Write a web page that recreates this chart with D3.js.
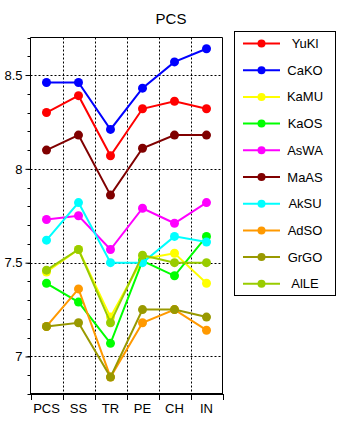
<!DOCTYPE html>
<html>
<head>
<meta charset="utf-8">
<script src="https://cdn.jsdelivr.net/npm/d3@7"></script>
<style>
  html, body { margin: 0; padding: 0; background: #fff; }
  svg { display: block; font-family: "Liberation Sans", Arial, sans-serif; }
</style>
</head>
<body>
<svg id="chart" width="342" height="423"></svg>
<script>
// Categories along the x axis
const categories = ["PCS", "SS", "TR", "PE", "CH", "IN"];

// Series names and colours (legend order = drawing order)
const seriesNames  = ["YuKl", "CaKO", "KaMU", "KaOS", "AsWA", "MaAS", "AkSU", "AdSO", "GrGO", "AlLE"];
const seriesColors = ["#ff0000", "#0000ff", "#ffff00", "#00ff00", "#ff00ff", "#800000", "#00ffff", "#ff9900", "#999900", "#99cc00"];

// Values per series, one per category
const YuKl = [8.30, 8.39, 8.07, 8.32, 8.36, 8.32];
const CaKO = [8.46, 8.46, 8.21, 8.43, 8.57, 8.64];
const KaMU = [7.45, 7.57, 7.21, 7.52, 7.55, 7.39];
const KaOS = [7.39, 7.29, 7.07, 7.51, 7.43, 7.64];
const AsWA = [7.73, 7.75, 7.57, 7.79, 7.71, 7.82];
const MaAS = [8.10, 8.18, 7.86, 8.11, 8.18, 8.18];
const AkSU = [7.62, 7.82, 7.50, 7.50, 7.64, 7.61];
const AdSO = [7.16, 7.36, 6.89, 7.18, 7.25, 7.14];
const GrGO = [7.16, 7.18, 6.89, 7.25, 7.25, 7.21];
const AlLE = [7.46, 7.57, 7.18, 7.54, 7.50, 7.50];

const seriesValues = [YuKl, CaKO, KaMU, KaOS, AsWA, MaAS, AkSU, AdSO, GrGO, AlLE];

// Axis ticks
const yTicks = [7, 7.5, 8, 8.5];
const yMinorTicks = d3.range(68, 88).map(d => d / 10);
const yDomain = [6.8, 8.7];
const titleText = "PCS";

const svg = d3.select("#chart");
const plot = { left: 30.5, right: 222.5, top: 37.5, bottom: 394 };

const x = d3.scaleBand().domain(categories).range([plot.left, plot.right]).padding(0);
const y = d3.scaleLinear().domain(yDomain).range([plot.bottom, plot.top]);

// Title
svg.append("text")
  .attr("x", 171).attr("y", 23.5)
  .attr("text-anchor", "middle")
  .attr("font-size", 15)
  .attr("fill", "#000")
  .text(titleText);

// Gridlines
const grid = svg.append("g").attr("stroke", "#000").attr("stroke-width", 1).attr("stroke-dasharray", "2,2");
grid.selectAll("line.h").data(yTicks).join("line")
  .attr("class", "h")
  .attr("x1", plot.left).attr("x2", plot.right)
  .attr("y1", d => Math.round(y(d)) + 0.5).attr("y2", d => Math.round(y(d)) + 0.5);
grid.selectAll("line.v").data(categories.slice(1)).join("line")
  .attr("class", "v")
  .attr("x1", d => Math.round(x(d)) + 0.5).attr("x2", d => Math.round(x(d)) + 0.5)
  .attr("y1", plot.top).attr("y2", plot.bottom);

// Frame: top, left, right
svg.append("path")
  .attr("d", `M${plot.left},${plot.bottom}V${plot.top}H${plot.right}V${plot.bottom}`)
  .attr("fill", "none").attr("stroke", "#000").attr("stroke-width", 1);

// Left axis: labelled major ticks and short minor ticks, both outward
svg.append("g").selectAll("line").data(yMinorTicks).join("line")
  .attr("x1", plot.left - 3).attr("x2", plot.left)
  .attr("y1", d => Math.round(y(d)) + 0.5).attr("y2", d => Math.round(y(d)) + 0.5)
  .attr("stroke", "#000");
const yAxis = d3.axisLeft(y).tickValues(yTicks).tickSize(5).tickPadding(3).tickFormat(d3.format("~g"));
const gy = svg.append("g").attr("transform", `translate(${plot.left},0)`).call(yAxis);
gy.select(".domain").remove();
gy.selectAll("text").attr("font-size", 13).attr("font-family", "Liberation Sans, Arial, sans-serif").attr("fill", "#000");
gy.selectAll("line").attr("stroke", "#000");

// Bottom axis: thick baseline, ticks at band boundaries
svg.append("line")
  .attr("x1", plot.left - 0.5).attr("x2", plot.right + 0.5)
  .attr("y1", plot.bottom).attr("y2", plot.bottom)
  .attr("stroke", "#000").attr("stroke-width", 2);
const boundaries = categories.map(c => x(c)).concat([plot.right]);
svg.append("g").selectAll("line").data(boundaries).join("line")
  .attr("x1", d => Math.round(d) + 0.5).attr("x2", d => Math.round(d) + 0.5)
  .attr("y1", plot.bottom).attr("y2", plot.bottom + 6)
  .attr("stroke", "#000").attr("stroke-width", 1);
svg.append("g").selectAll("text").data(categories).join("text")
  .attr("x", d => x(d) + x.bandwidth() / 2)
  .attr("y", 412.5)
  .attr("text-anchor", "middle")
  .attr("font-size", 13)
  .attr("fill", "#000")
  .text(d => d);

// Series lines and markers
const line = d3.line().x((d, i) => x(categories[i]) + x.bandwidth() / 2).y(d => y(d));
seriesValues.forEach((vals, si) => {
  const g = svg.append("g");
  g.append("path").datum(vals)
    .attr("d", line)
    .attr("fill", "none")
    .attr("stroke", seriesColors[si])
    .attr("stroke-width", 2);
  g.selectAll("circle").data(vals).join("circle")
    .attr("cx", (d, i) => x(categories[i]) + x.bandwidth() / 2)
    .attr("cy", d => y(d))
    .attr("r", 4.5)
    .attr("fill", seriesColors[si]);
});

// Legend
const legend = { x: 234.5, y: 31.5, w: 101, h: 264, rowStart: 43.5, rowStep: 26.7 };
svg.append("rect")
  .attr("x", legend.x).attr("y", legend.y).attr("width", legend.w).attr("height", legend.h)
  .attr("fill", "#fff").attr("stroke", "#000").attr("stroke-width", 1);
const items = svg.append("g").selectAll("g").data(seriesNames).join("g")
  .attr("transform", (d, i) => `translate(0,${legend.rowStart + i * legend.rowStep})`);
items.append("line")
  .attr("x1", 243).attr("x2", 280).attr("y1", 0).attr("y2", 0)
  .attr("stroke", (d, i) => seriesColors[i]).attr("stroke-width", 2);
items.append("circle")
  .attr("cx", 261.5).attr("cy", 0).attr("r", 4)
  .attr("fill", (d, i) => seriesColors[i]);
items.append("text")
  .attr("x", 305).attr("y", 0).attr("dy", "0.35em")
  .attr("text-anchor", "middle")
  .attr("font-size", 13)
  .attr("fill", "#000")
  .text(d => d);
</script>
</body>
</html>
